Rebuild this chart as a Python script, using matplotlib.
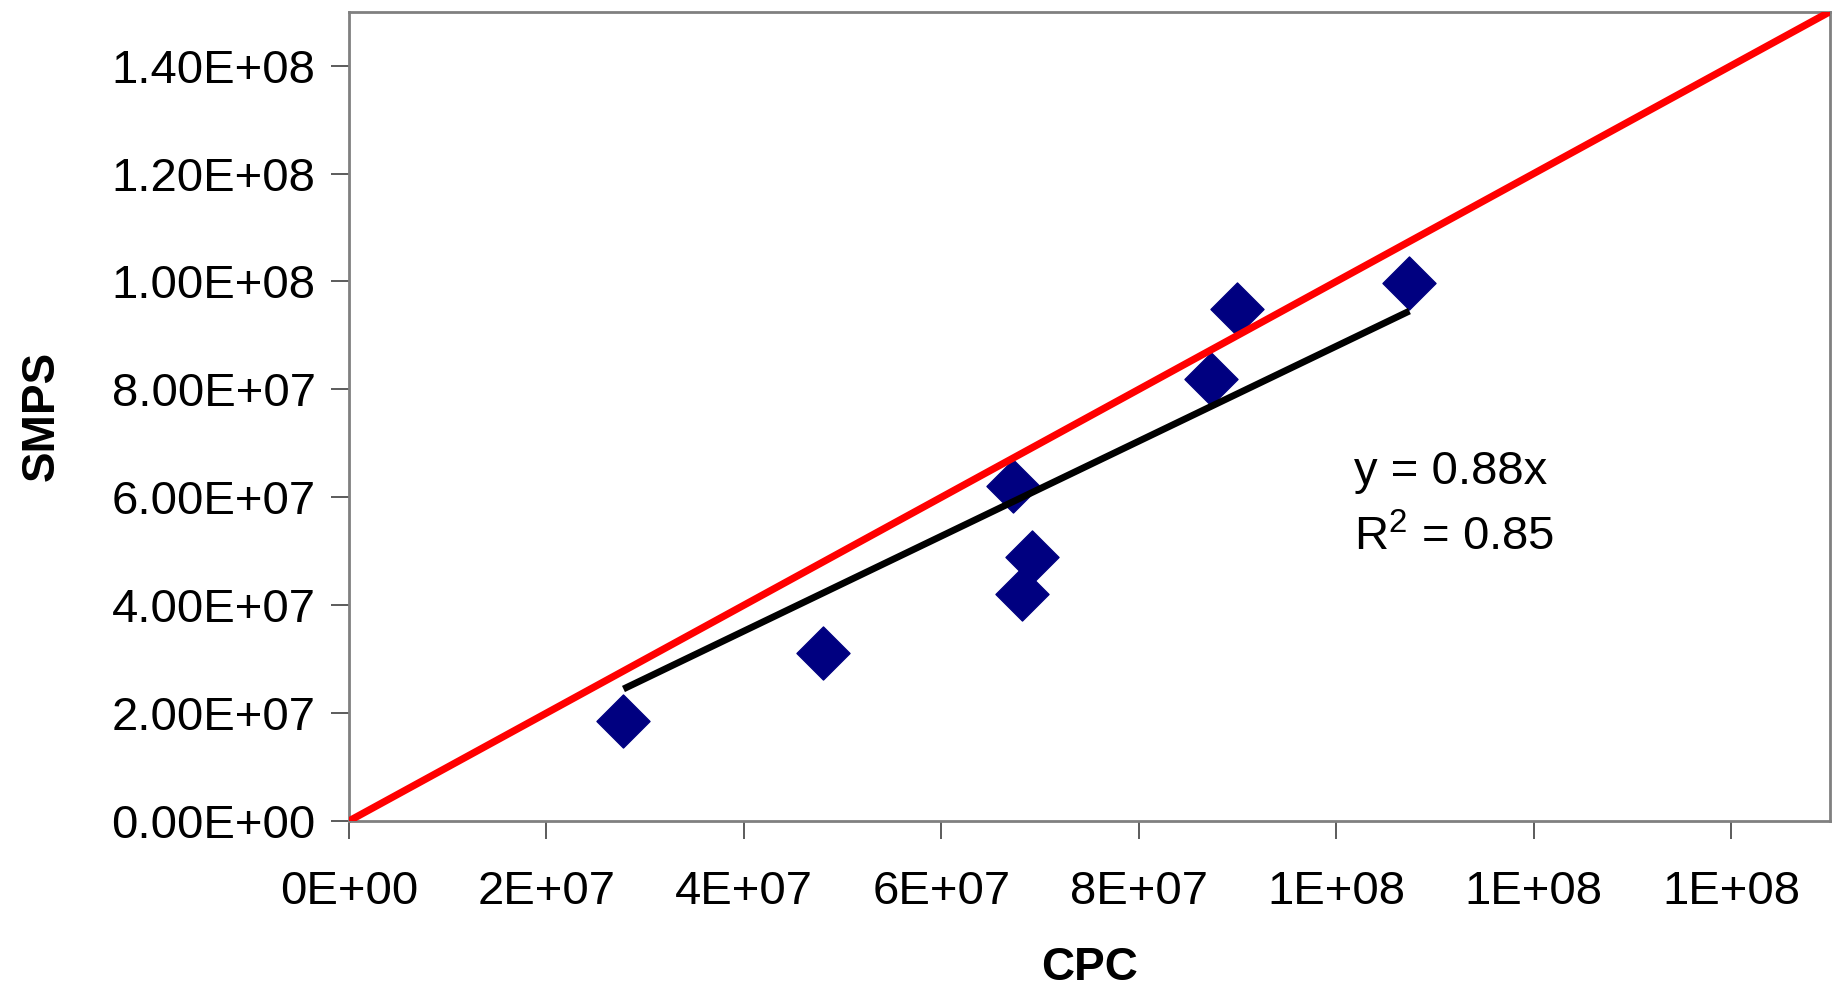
import numpy as np
import matplotlib
matplotlib.use('Agg')
import matplotlib.pyplot as plt
from matplotlib.ticker import FuncFormatter, MultipleLocator

plt.rcParams['font.family'] = ['Liberation Sans', 'DejaVu Sans']

# CPC vs SMPS number concentrations
cpc = np.array([2.78e7, 4.80e7, 6.73e7, 6.92e7, 6.82e7, 8.73e7, 8.99e7, 1.074e8])
smps = np.array([1.86e7, 3.11e7, 6.20e7, 4.90e7, 4.21e7, 8.19e7, 9.48e7, 9.98e7])

# Linear fit through the origin, as reported
slope = 0.88
r2 = 0.85
axis_max = 1.5e8

fig = plt.figure(figsize=(18.32, 9.89), dpi=100)
ax = fig.add_axes([0.1905, 0.1699, 0.8084, 0.8183])

ax.scatter(cpc, smps, marker='D', s=27**2, color='#000080', edgecolors='#000080',
           linewidths=1, zorder=2)

# 1:1 line
ax.plot([0, axis_max], [0, axis_max], color='#FF0000', lw=5.2, zorder=3,
        solid_capstyle='butt')

# trendline across the data range
xfit = np.array([cpc.min(), cpc.max()])
ax.plot(xfit, slope * xfit, color='black', lw=4.9, zorder=3, solid_capstyle='butt')

ax.text(1.018e8, 6.46e7, 'y = %.2fx' % slope, fontsize=34, va='center', ha='left')
ax.text(1.018e8, 5.25e7, '$\\mathregular{R^2}$ = %.2f' % r2, fontsize=34,
        va='center', ha='left')

ax.set_xlim(0, axis_max)
ax.set_ylim(0, axis_max)
ax.xaxis.set_major_locator(MultipleLocator(2e7))
ax.yaxis.set_major_locator(MultipleLocator(2e7))
ax.xaxis.set_major_formatter(FuncFormatter(lambda v, p: '%.0E' % v))
ax.yaxis.set_major_formatter(FuncFormatter(lambda v, p: '%.2E' % v))

ax.tick_params(axis='both', direction='out', length=13, width=1.2, color='#404040',
               labelsize=34)
ax.tick_params(axis='y', pad=11)
ax.tick_params(axis='x', pad=22)

for s in ax.spines.values():
    s.set_color('#808080')
    s.set_linewidth(2)

ax.set_xlabel('CPC', fontsize=33, fontweight='bold', labelpad=23)
ax.set_ylabel('SMPS', fontsize=33, fontweight='bold', labelpad=34)

fig.savefig('out.png', dpi=100)
